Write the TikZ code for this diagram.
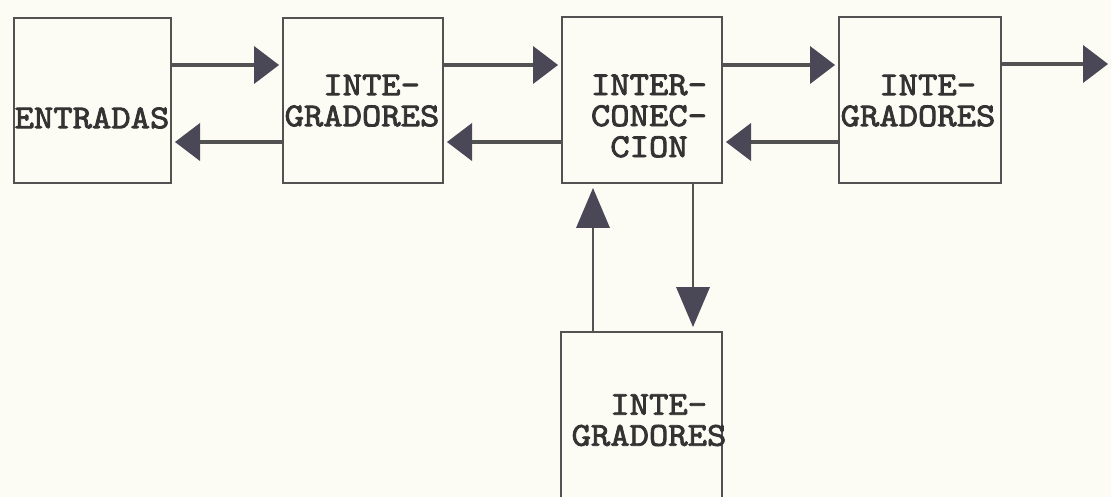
\documentclass[tikz,border=0pt]{standalone}
\usepackage{fontspec}
\usetikzlibrary{arrows.meta}
\newfontfamily\typew{lmmono10-regular.otf}[FakeBold=2.4,FakeStretch=1.1]
\definecolor{paper}{HTML}{FDFCF4}
\definecolor{ink}{HTML}{525252}
\definecolor{headc}{HTML}{4A4856}
\definecolor{txt}{HTML}{333333}
\begin{document}
\begin{tikzpicture}[x=1pt,y=-1pt,
  box/.style={draw=ink,line width=2.8pt,rectangle,inner sep=0pt,outer sep=0pt},
  lbl/.style={font=\typew\fontsize{33.5}{31}\selectfont,text=txt,inner sep=0pt},
  conn/.style={draw=ink,line width=3.4pt,-{Triangle[length=25pt,width=38pt,line width=0pt,color=headc]},shorten >=4pt},
  vconn/.style={draw=ink,line width=2.4pt,-{Triangle[length=40pt,width=34pt,line width=0pt,color=headc]},shorten >=5pt}]
\fill[paper] (0,0) rectangle (1111,497);
\clip (0,0) rectangle (1111,497);
% boxes
\node[box,minimum width=157pt,minimum height=165pt] (ent) at (92.5,100.5) {};
\node[box,minimum width=160pt,minimum height=165pt] (ig1) at (363,100.5) {};
\node[box,minimum width=160pt,minimum height=166pt] (ic) at (642,100) {};
\node[box,minimum width=162pt,minimum height=166pt] (ig2) at (920,100) {};
\node[box,minimum width=161pt,minimum height=190pt] (ig3) at (641.5,427) {};
% labels
\node[lbl] (tEnt) at (92,118) {ENTRADAS};
\node[lbl,align=left] (tIg1) at (362,100.5) {\phantom{GR}INTE-\\GRADORES};
\node[lbl,align=center] (tIc) at (649,116) {INTER-\\CONEC-\\CION};
\node[lbl,align=left] (tIg2) at (918,100.5) {\phantom{GR}INTE-\\GRADORES};
\node[lbl,align=left] (tIg3) at (649,420) {\phantom{GR}INTE-\\GRADORES};
% helper coordinates
\coordinate (rowa) at (0,65);
\coordinate (rowb) at (0,142);
\coordinate (out) at (1108,64);
\coordinate (colu) at (593,0);
\coordinate (cold) at (693,0);
% connectors
\draw[conn] (ent.east |- rowa) -- (ig1.west |- rowa);
\draw[conn] (ig1.west |- rowb) -- (ent.east |- rowb);
\draw[conn] (ig1.east |- rowa) -- (ic.west |- rowa);
\draw[conn] (ic.west |- rowb) -- (ig1.east |- rowb);
\draw[conn] (ic.east |- rowa) -- (ig2.west |- rowa);
\draw[conn] (ig2.west |- rowb) -- (ic.east |- rowb);
\draw[conn,shorten >=0pt] (ig2.east |- out) -- (out);
\draw[vconn] (colu |- ig3.north) -- (colu |- ic.south);
\draw[vconn] (cold |- ic.south) -- (cold |- ig3.north);
\end{tikzpicture}
\end{document}
